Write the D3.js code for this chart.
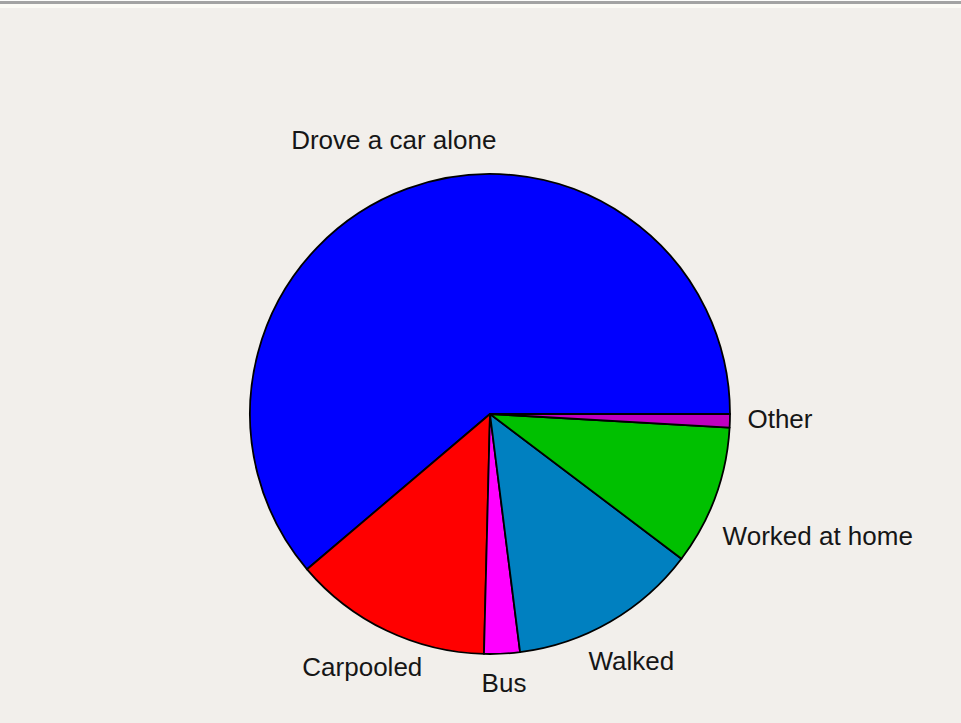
<!DOCTYPE html>
<meta charset="utf-8">
<style>
  body { margin: 0; background: #f2efeb; }
  svg { display: block; }
</style>
<body>
  <script src="https://cdn.jsdelivr.net/npm/d3@7"></script>
  <script>
    // slices in drawing order (counter-clockwise from 3 o'clock)
    var categories = ["Drove a car alone", "Carpooled", "Bus", "Walked", "Worked at home", "Other"];
    var shares = [61.2, 13.4, 2.4, 12.7, 9.4, 0.9];
    var colors = ["#0000ff", "#ff0000", "#ff00ff", "#0080c0", "#00c000", "#c000c0"];

    var width = 961, height = 723;
    var cx = 490, cy = 414, radius = 240;

    var svg = d3.select("body").append("svg")
      .attr("width", width)
      .attr("height", height);

    // window frame at the top
    svg.append("rect").attr("x", 0).attr("y", 0).attr("width", width).attr("height", 1).style("fill", "#fdfdfb");
    svg.append("rect").attr("x", 0).attr("y", 1).attr("width", width).attr("height", 3).style("fill", "#a3a3a3");
    svg.append("rect").attr("x", 0).attr("y", 4).attr("width", width).attr("height", 4).style("fill", "#fcfbf5");

    var data = categories.map(function(c, i) {
      return { name: c, value: shares[i], color: colors[i] };
    });

    // start at 3 o'clock, go counter-clockwise
    var pie = d3.pie()
      .sort(null)
      .value(function(d) { return d.value; })
      .startAngle(Math.PI / 2)
      .endAngle(Math.PI / 2 - 2 * Math.PI);

    var arc = d3.arc().innerRadius(0).outerRadius(radius);

    var g = svg.append("g")
      .attr("transform", "translate(" + cx + "," + cy + ")");

    var arcs = pie(data);

    g.selectAll(".slice")
      .data(arcs)
      .enter().append("path")
      .attr("class", "slice")
      .attr("d", arc)
      .style("fill", function(d) { return d.data.color; })
      .style("stroke", "#000")
      .style("stroke-width", 1.8)
      .style("stroke-linejoin", "round");

    // labels sit just outside the rim, pushed out by their own box
    var labelGap = radius * 1.11;
    var nudge = {
      "Drove a car alone": [0, -12],
      "Carpooled": [-7, 1],
      "Bus": [0, -9],
      "Walked": [1, 4],
      "Worked at home": [45, 18],
      "Other": [-9, -4]
    };

    var labels = g.selectAll(".label")
      .data(arcs)
      .enter().append("text")
      .attr("class", "label")
      .attr("text-anchor", "middle")
      .attr("dy", "0.35em")
      .style("font", "26px 'Liberation Sans', Arial, sans-serif")
      .style("fill", "#161616")
      .text(function(d) { return d.data.name; });

    labels.each(function(d) {
      var a = (d.startAngle + d.endAngle) / 2;
      var dx = Math.sin(a), dy = -Math.cos(a);
      var bb = this.getBBox();
      var hw = bb.width / 2, hh = 12;
      var ext = Math.min(Math.abs(dx) > 1e-6 ? hw / Math.abs(dx) : 1e9,
                         Math.abs(dy) > 1e-6 ? hh / Math.abs(dy) : 1e9);
      var n = nudge[d.data.name] || [0, 0];
      d3.select(this)
        .attr("x", dx * (labelGap + ext) + n[0])
        .attr("y", dy * (labelGap + ext) + n[1]);
    });
  </script>
</body>
